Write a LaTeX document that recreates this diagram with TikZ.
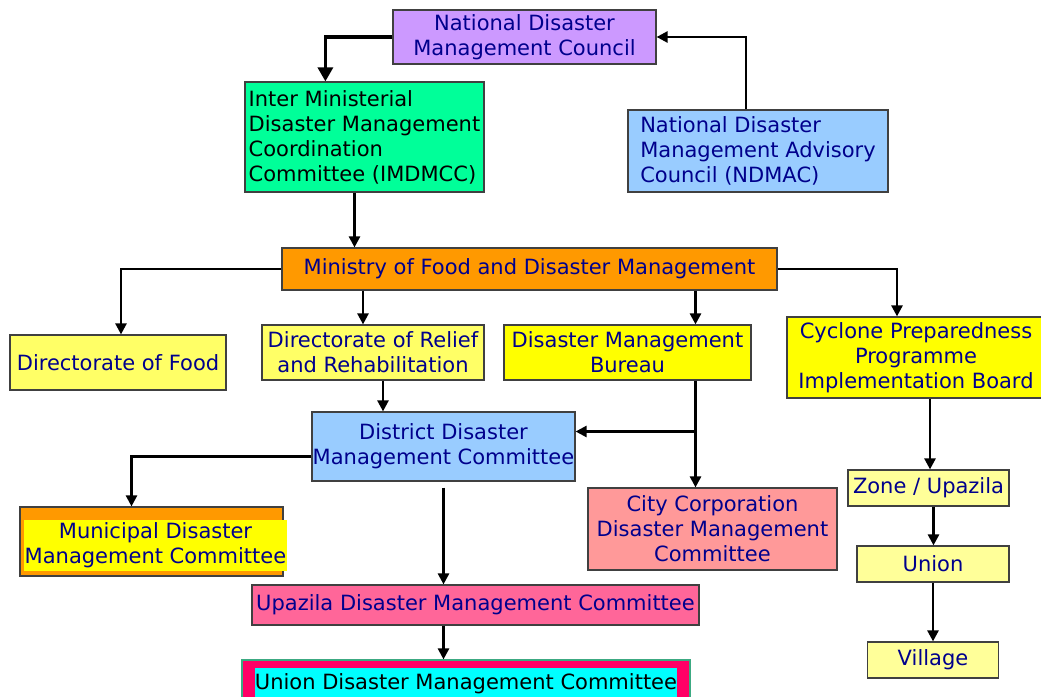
\documentclass[tikz,border=0pt]{standalone}
\usepackage{fontspec}
\setmainfont{DejaVu Sans}
\usetikzlibrary{arrows.meta}
\definecolor{textnavy}{RGB}{0,0,140}
\definecolor{councilpurple}{RGB}{204,153,255}
\definecolor{imdgreen}{RGB}{0,255,153}
\definecolor{skyblue}{RGB}{153,204,255}
\definecolor{ministryorange}{RGB}{255,153,0}
\definecolor{lightyellow}{RGB}{255,255,102}
\definecolor{brightyellow}{RGB}{255,255,0}
\definecolor{paleyellow}{RGB}{255,255,153}
\definecolor{cityred}{RGB}{255,153,153}
\definecolor{upazilapink}{RGB}{255,102,153}
\definecolor{unionred}{RGB}{255,0,102}
\definecolor{unioncyan}{RGB}{0,255,255}
\definecolor{unionedge}{RGB}{60,170,130}

\begin{document}
\begin{tikzpicture}[x=1pt, y=-1pt]
  \tikzset{box/.style={draw=black!75, line width=1.2pt, inner sep=0pt, align=center,
      text=textnavy, font=\fontsize{21}{25}\selectfont},
    link/.style={line width=2.5pt, -{Triangle[length=11pt,width=11pt]}},
    biglink/.style={line width=3.2pt, -{Triangle[length=14pt,width=15pt]}}}
  \useasboundingbox (0,0) rectangle (1041,696);
  \node[box, fill=councilpurple, minimum width=263pt, minimum height=54pt] (NDMC)
    at (524.5,37) {National Disaster\\Management Council};
  \node[box, fill=imdgreen, text=black, align=left, minimum width=239pt, minimum height=110pt] (IMDMCC)
    at (364.5,137) {Inter Ministerial\\Disaster Management\\Coordination\\Committee (IMDMCC)};
  \node[box, fill=skyblue, align=left, minimum width=260pt, minimum height=82pt] (NDMAC)
    at (758,151) {National Disaster\\Management Advisory\\Council (NDMAC)};
  \node[box, fill=ministryorange, minimum width=495pt, minimum height=42pt] (MoFDM)
    at (529.5,269) {Ministry of Food and Disaster Management};
  \node[box, fill=lightyellow, minimum width=216pt, minimum height=55pt] (DirFood)
    at (118,362.5) {Directorate of Food};
  \node[box, fill=lightyellow, minimum width=222pt, minimum height=55pt] (DirRelief)
    at (373,352.5) {Directorate of Relief\\and Rehabilitation};
  \node[box, fill=brightyellow, minimum width=247pt, minimum height=55pt] (DMB)
    at (627.5,352.5) {Disaster Management\\Bureau};
  \node[box, fill=brightyellow, minimum width=258pt, minimum height=81pt] (CPPIB)
    at (916,357.5) {Cyclone Preparedness\\Programme\\Implementation Board};
  \node[box, fill=skyblue, minimum width=263pt, minimum height=69pt] (DDMC)
    at (443.5,446.5) {District Disaster\\Management Committee};
  \node[box, fill=ministryorange, minimum width=263pt, minimum height=69pt] (MDMC)
    at (151.5,541.5) {};
  \node[box, draw=none, fill=brightyellow, minimum width=263pt, minimum height=51pt] (MDMC-text)
    at (155.5,545) {Municipal Disaster\\Management Committee};
  \node[box, fill=cityred, minimum width=249pt, minimum height=82pt] (CCDMC)
    at (712.5,529) {City Corporation\\Disaster Management\\Committee};
  \node[box, fill=upazilapink, minimum width=447pt, minimum height=40pt] (UzDMC)
    at (475.5,605) {Upazila Disaster Management Committee};
  \node[box, draw=unionedge, fill=unionred, minimum width=448pt, minimum height=48pt] (UDMC)
    at (466,684) {};
  \node[box, draw=none, fill=unioncyan, text=black, minimum width=420pt, minimum height=32pt] (UDMC-text)
    at (466,684) {Union Disaster Management Committee};
  \node[box, fill=paleyellow, minimum width=161pt, minimum height=36pt] (Zone)
    at (928.5,488) {Zone / Upazila};
  \node[box, fill=paleyellow, minimum width=152pt, minimum height=36pt] (Union)
    at (933,564) {Union};
  \node[box, fill=paleyellow, minimum width=131pt, minimum height=36pt] (Village)
    at (933,660) {Village};
  \draw[biglink] (NDMC.west) -| ([xshift=81pt]IMDMCC.north west);
  \draw[link] ([xshift=-12pt]NDMAC.north) |- (NDMC.east);
  \draw[link] ([xshift=-10pt]IMDMCC.south) -- ([xshift=-10pt]IMDMCC.south |- MoFDM.north);
  \draw[link] (MoFDM.west) -| ([xshift=3pt]DirFood.north);
  \draw[link] ([xshift=-10pt]DirRelief.north |- MoFDM.south) -- ([xshift=-10pt]DirRelief.north);
  \draw[link] ([xshift=68pt]DMB.north |- MoFDM.south) -- ([xshift=68pt]DMB.north);
  \draw[link] (MoFDM.east) -| ([xshift=-19pt]CPPIB.north);
  \draw[link] ([xshift=10pt]DirRelief.south) -- ([xshift=10pt]DirRelief.south |- DDMC.north);
  \draw[link] ([xshift=68pt]DMB.south) -- ([xshift=68pt]DMB.south |- CCDMC.north);
  \draw[link] ([xshift=68pt,yshift=15pt]DMB.south |- DDMC.east) -- ([yshift=15pt]DDMC.east);
  \draw[link] ([yshift=-10pt]DDMC.west) -| ([xshift=-20pt]MDMC.north);
  \draw[link, shorten <=6pt] (DDMC.south) -- (DDMC.south |- UzDMC.north);
  \draw[link] ([xshift=-32pt]UzDMC.south) -- ([xshift=-32pt]UzDMC.south |- UDMC.north);
  \draw[link] ([xshift=14pt]CPPIB.south) -- ([xshift=14pt]CPPIB.south |- Zone.north);
  \draw[link] ([xshift=5pt]Zone.south) -- ([xshift=5pt]Zone.south |- Union.north);
  \draw[link] (Union.south) -- (Village.north);
\end{tikzpicture}
\end{document}
